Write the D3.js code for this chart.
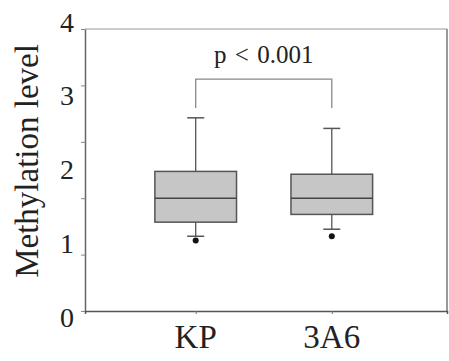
<!DOCTYPE html>
<html>
<head>
<meta charset="utf-8">
<script src="https://cdn.jsdelivr.net/npm/d3@7"></script>
<style>
  body { margin: 0; background: #fff; }
  svg { display: block; font-family: "Liberation Serif", "Times New Roman", serif; }
</style>
</head>
<body>
<div id="container"><svg></svg></div>
<script>
// box plot data
const categories = ['KP', '3A6'];
const whiskerLow = [1.06, 1.16];
const q1 = [1.26, 1.37];
const median = [1.60, 1.60];
const q3 = [1.98, 1.94];
const whiskerHigh = [2.74, 2.59];
const outliers = [1.00, 1.06];
const yTickLabels = [0, 1, 2, 3, 4];
const yTickMarks = [0, 0.8, 1.6, 2.4, 3.2, 4];
const bracketTop = 3.29;
const bracketBottom = 2.88;
const pLabel = 'p < 0.001';

const width = 449, height = 361;
const margin = { top: 29, right: 2, bottom: 50, left: 85 };

const svg = d3.select('svg').attr('width', width).attr('height', height);

const x = d3.scalePoint()
  .domain(categories)
  .range([margin.left, width - margin.right])
  .padding(0.83)
  .align(0.49);

const y = d3.scaleLinear()
  .domain([0, 4])
  .range([height - margin.bottom, margin.top]);

const boxW = x.step() * 0.6;
const capW = 17;

// frame top + right
svg.append('line')
  .attr('x1', margin.left).attr('x2', width - margin.right)
  .attr('y1', y(4)).attr('y2', y(4))
  .attr('stroke', '#bbb').attr('stroke-width', 1.5);
svg.append('line')
  .attr('x1', width - margin.right).attr('x2', width - margin.right)
  .attr('y1', y(4)).attr('y2', y(0))
  .attr('stroke', '#777').attr('stroke-width', 1.5);

// y axis: tick marks and labels do not line up in the original
const yAxis = svg.append('g')
  .attr('transform', `translate(${margin.left},0)`)
  .call(d3.axisLeft(y).tickValues(yTickMarks).tickSize(4).tickSizeOuter(0).tickFormat(''));
yAxis.select('.domain').attr('stroke', '#666').attr('stroke-width', 1.5);
yAxis.selectAll('.tick line').attr('stroke', '#888');

const yLab = d3.scaleLinear().domain([0, 4]).range([317, 22]);
svg.append('g').selectAll('text')
  .data(yTickLabels)
  .enter().append('text')
  .attr('x', 74)
  .attr('y', d => yLab(d))
  .attr('dy', '0.34em')
  .attr('text-anchor', 'end')
  .style('font-size', '28px')
  .style('fill', '#222')
  .text(d => d);

// x axis
const xAxis = svg.append('g')
  .attr('transform', `translate(0,${y(0)})`)
  .call(d3.axisBottom(x).tickSize(3).tickSizeOuter(3).tickFormat(''));
xAxis.select('.domain').attr('stroke', '#555').attr('stroke-width', 1.5);
xAxis.selectAll('.tick line').attr('stroke', '#777');

svg.append('g').selectAll('text')
  .data(categories)
  .enter().append('text')
  .attr('x', d => x(d))
  .attr('y', 348)
  .attr('text-anchor', 'middle')
  .style('font-size', '33px')
  .style('fill', '#222')
  .text(d => d);

// y axis title
svg.append('text')
  .attr('transform', 'translate(38,161) rotate(-90)')
  .attr('text-anchor', 'middle')
  .style('font-size', '33px')
  .style('fill', '#222')
  .text('Methylation level');

// boxes
const boxes = svg.append('g').selectAll('g')
  .data(categories)
  .enter().append('g');

boxes.append('line') // whisker
  .attr('x1', d => x(d)).attr('x2', d => x(d))
  .attr('y1', (d, i) => y(whiskerLow[i]))
  .attr('y2', (d, i) => y(whiskerHigh[i]))
  .attr('stroke', '#555').attr('stroke-width', 1.3);

boxes.selectAll('.cap')
  .data((d, i) => [whiskerLow[i], whiskerHigh[i]].map(v => ({ c: d, v })))
  .enter().append('line')
  .attr('class', 'cap')
  .attr('x1', d => x(d.c) - capW / 2).attr('x2', d => x(d.c) + capW / 2)
  .attr('y1', d => y(d.v)).attr('y2', d => y(d.v))
  .attr('stroke', '#555').attr('stroke-width', 1.5);

boxes.append('rect')
  .attr('x', d => x(d) - boxW / 2)
  .attr('width', boxW)
  .attr('y', (d, i) => y(q3[i]))
  .attr('height', (d, i) => y(q1[i]) - y(q3[i]))
  .attr('fill', '#c6c6c6')
  .attr('stroke', '#555').attr('stroke-width', 1.5);

boxes.append('line')
  .attr('x1', d => x(d) - boxW / 2).attr('x2', d => x(d) + boxW / 2)
  .attr('y1', (d, i) => y(median[i])).attr('y2', (d, i) => y(median[i]))
  .attr('stroke', '#444').attr('stroke-width', 1.5);

boxes.append('circle')
  .attr('cx', d => x(d))
  .attr('cy', (d, i) => y(outliers[i]))
  .attr('r', 3)
  .attr('fill', '#111');

// significance bracket
const bx1 = x(categories[0]), bx2 = x(categories[1]);
svg.append('path')
  .attr('d', `M${bx1},${y(bracketBottom)}V${y(bracketTop)}H${bx2}V${y(bracketBottom)}`)
  .attr('fill', 'none')
  .attr('stroke', '#888').attr('stroke-width', 1.3);

svg.append('text')
  .attr('x', (bx1 + bx2) / 2)
  .attr('y', 63)
  .attr('text-anchor', 'middle')
  .style('font-size', '25px')
  .style('word-spacing', '2px')
  .style('fill', '#222')
  .text(pLabel);
</script>
</body>
</html>
